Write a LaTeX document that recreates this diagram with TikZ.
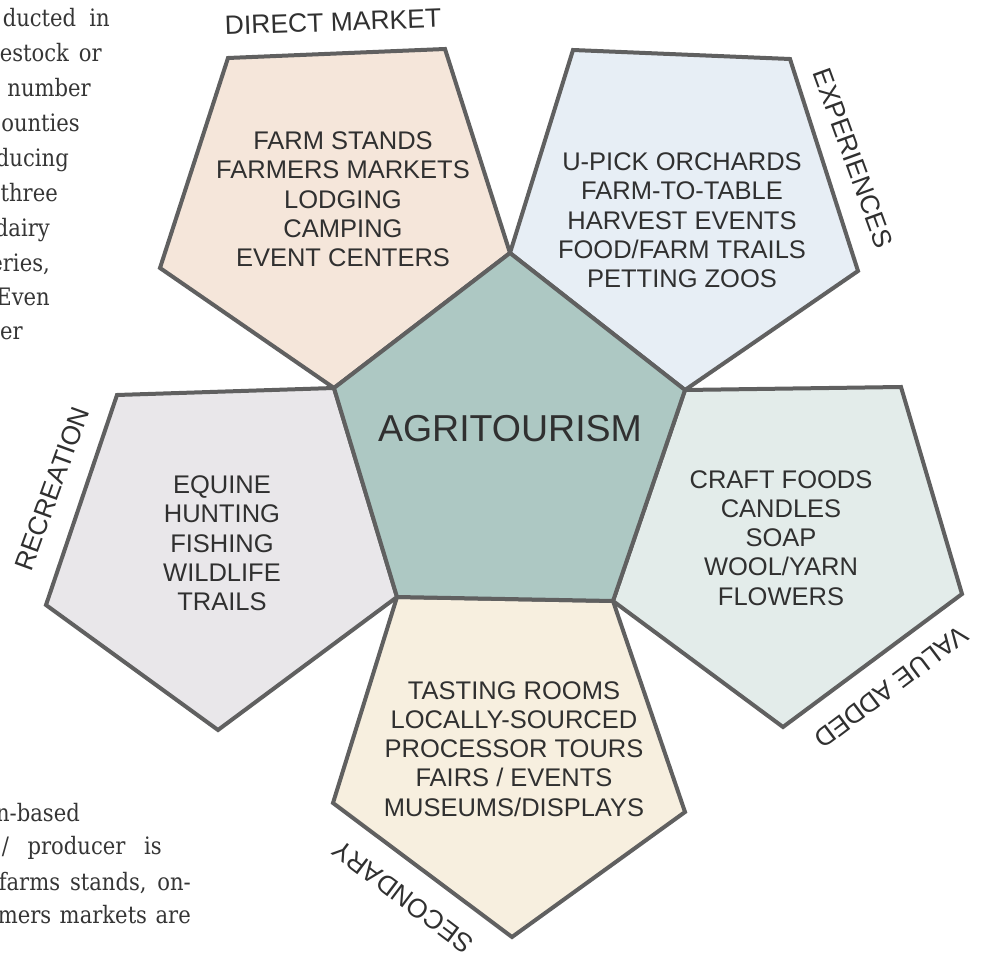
\documentclass[tikz,border=0pt]{standalone}
\usepackage{fontspec}
\setmainfont{Liberation Sans}
\newfontfamily\bodyfont[FakeStretch=0.88]{DejaVu Serif}

\definecolor{edge}{HTML}{606060}
\definecolor{ink}{HTML}{303030}
\definecolor{bodyink}{HTML}{353535}
\definecolor{fillcenter}{HTML}{ADC8C3}
\definecolor{filldm}{HTML}{F5E6DA}
\definecolor{fillexp}{HTML}{E7EEF5}
\definecolor{fillrec}{HTML}{E9E7EA}
\definecolor{fillva}{HTML}{E3ECEA}
\definecolor{fillsec}{HTML}{F7EFDF}

\tikzset{
  petal/.style={draw=edge, line width=4pt, line join=miter},
  items/.style={text=ink, align=center, inner sep=0pt,
    font=\fontsize{25.5}{29.3}\selectfont},
  tag/.style={text=ink, inner sep=0pt, font=\fontsize{26.5}{30}\selectfont},
  hub/.style={text=ink, inner sep=0pt, font=\fontsize{37.5}{41}\selectfont},
  prose/.style={text=bodyink, inner sep=0pt, anchor=base east,
    font=\bodyfont\fontsize{24}{35}\selectfont},
}
% a justified line of running text, spread to a given width
\newcommand{\spreadline}[2]{\makebox[#1][s]{#2}}

\begin{document}
\begin{tikzpicture}[x=1pt,y=-1pt]
\useasboundingbox (0,0) rectangle (986,957);

% shared vertices of the central pentagon
\coordinate (cT)  at (510,253);
\coordinate (cR)  at (685,390);
\coordinate (cBR) at (613,601);
\coordinate (cBL) at (397,597);
\coordinate (cL)  at (334,388);

% outer vertices of the five petals
\coordinate (dm1) at (228,58);
\coordinate (dm2) at (445,49);
\coordinate (dm5) at (160,268);
\coordinate (ex1) at (573,50);
\coordinate (ex2) at (790,59);
\coordinate (ex3) at (858,271);
\coordinate (re1) at (117,395);
\coordinate (re4) at (218,730);
\coordinate (re5) at (46,605);
\coordinate (va2) at (901,387);
\coordinate (va3) at (962,594);
\coordinate (va4) at (783,727);
\coordinate (se3) at (685,812);
\coordinate (se4) at (512,937);
\coordinate (se5) at (333,803);

% petals
\filldraw[petal, fill=filldm]  (dm1) -- (dm2) -- (cT) -- (cL) -- (dm5) -- cycle;
\filldraw[petal, fill=fillexp] (ex1) -- (ex2) -- (ex3) -- (cR) -- (cT) -- cycle;
\filldraw[petal, fill=fillrec] (re1) -- (cL) -- (cBL) -- (re4) -- (re5) -- cycle;
\filldraw[petal, fill=fillva]  (cR) -- (va2) -- (va3) -- (va4) -- (cBR) -- cycle;
\filldraw[petal, fill=fillsec] (cBL) -- (cBR) -- (se3) -- (se4) -- (se5) -- cycle;
% centre
\filldraw[petal, fill=fillcenter] (cT) -- (cR) -- (cBR) -- (cBL) -- (cL) -- cycle;

% centre title
\node[hub, anchor=base] (hub) at (510,442) {AGRITOURISM};

% petal contents
\node[items] (dmlist) at (343,199.4)
  {FARM STANDS\\FARMERS MARKETS\\LODGING\\CAMPING\\EVENT CENTERS};
\node[items] (exlist) at (682,220.4)
  {U-PICK ORCHARDS\\FARM-TO-TABLE\\HARVEST EVENTS\\FOOD/FARM TRAILS\\PETTING ZOOS};
\node[items] (relist) at (222,543.4)
  {EQUINE\\HUNTING\\FISHING\\WILDLIFE\\TRAILS};
\node[items] (valist) at (781,537.9)
  {CRAFT FOODS\\CANDLES\\SOAP\\WOOL/YARN\\FLOWERS};
\node[items] (selist) at (514,748.9)
  {TASTING ROOMS\\LOCALLY-SOURCED\\PROCESSOR TOURS\\FAIRS / EVENTS\\MUSEUMS/DISPLAYS};

% petal captions
\node[tag, rotate=2]    (dmtag) at (333,22)  {DIRECT MARKET};
\node[tag, rotate=-70]  (extag) at (853,158) {EXPERIENCES};
\node[tag, rotate=70]   (retag) at (52,489)  {RECREATION};
\node[tag, rotate=217]  (vatag) at (891,687) {VALUE ADDED};
\node[tag, rotate=143]  (setag) at (403,897) {SECONDARY};

% surrounding page text
\node[prose] (p1)  at (110,27)  {\spreadline{107pt}{ducted in}};
\node[prose] (p2)  at (102,62)  {\spreadline{102pt}{estock or}};
\node[prose] (p3)  at (91,97)   {number};
\node[prose] (p4)  at (80,132)  {ounties};
\node[prose] (p5)  at (69,167)  {ducing};
\node[prose] (p6)  at (58,202)  {three};
\node[prose] (p7)  at (50,237)  {dairy};
\node[prose] (p8)  at (50,272)  {eries,};
\node[prose] (p9)  at (50,306)  {Even};
\node[prose] (p10) at (23,340)  {er};
\node[prose] (q1)  at (80,821)  {n-based};
\node[prose] (q2)  at (162,854) {\spreadline{160pt}{/ producer is}};
\node[prose] (q3)  at (191,890) {\spreadline{192pt}{farms stands, on-}};
\node[prose] (q4)  at (191,923) {\spreadline{193pt}{mers markets are}};
\end{tikzpicture}
\end{document}
